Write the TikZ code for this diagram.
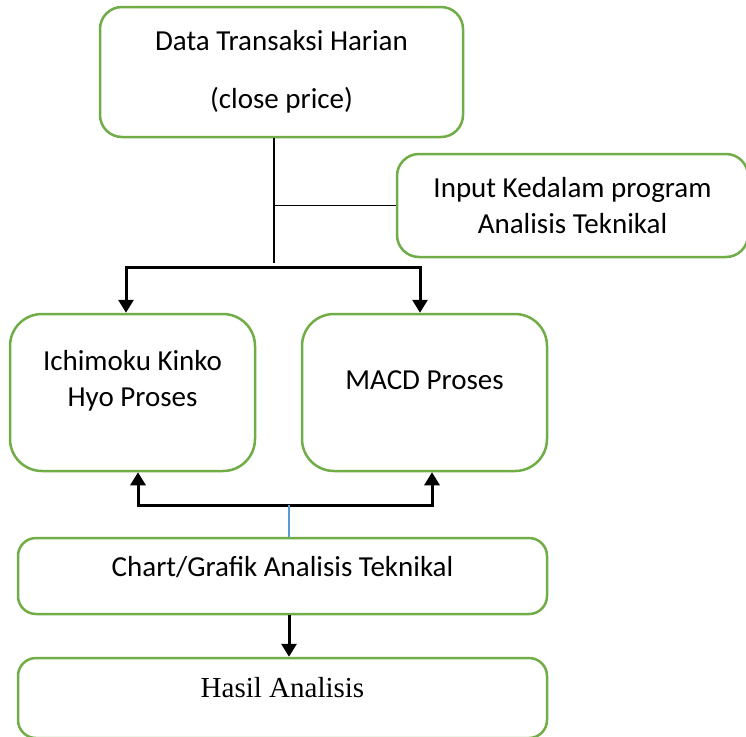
\documentclass[tikz,border=0pt]{standalone}
\usepackage{fontspec}
\setmainfont{Carlito}
\newfontfamily\timesfont{Liberation Serif}
\usetikzlibrary{arrows.meta}
\definecolor{boxgreen}{HTML}{70AD47}
\definecolor{tapblue}{HTML}{5B9BD5}
\tikzset{
  stage/.style={draw=boxgreen,line width=2.5pt,rectangle,rounded corners=#1,
    inner sep=0pt,align=center,font=\fontsize{29}{35.5}\selectfont},
  stage/.default=22pt,
  tip/.tip={Triangle[width=15pt,length=13pt]},
  flow/.style={line width=3pt,-tip},
  link/.style={line width=1.3pt}
}
\begin{document}
\begin{tikzpicture}[x=1pt,y=-1pt]
      \useasboundingbox (0,0) rectangle (746,736);
      \node[stage,minimum width=363pt,minimum height=130pt] (data) at (281.5,72) {Data Transaksi Harian\\[22pt](close price)};
      \node[stage,minimum width=351pt,minimum height=103pt] (input) at (572.5,205.5) {Input Kedalam program\\Analisis Teknikal};
      \node[stage=32pt,minimum width=245pt,minimum height=157pt,text depth=28pt] (ichi) at (132.5,392.5) {Ichimoku Kinko\\Hyo Proses};
      \node[stage=32pt,minimum width=245pt,minimum height=157pt,text depth=24pt] (macd) at (424.5,392.5) {MACD Proses};
      \node[stage=18pt,minimum width=529pt,minimum height=76pt,text depth=19pt] (chart) at (282.5,576) {Chart/Grafik Analisis Teknikal};
      \node[stage=18pt,minimum width=529pt,minimum height=80pt,text depth=22pt] (hasil) at (282.5,698) {\timesfont Hasil Analisis};
      \coordinate (split) at (274,263);
      \coordinate (fanL) at (126,267);
      \coordinate (fanR) at (420,267);
      \coordinate (joinL) at (138,505);
      \coordinate (joinR) at (432,505);
      \coordinate (tap) at (289,505);
      \draw[link] (split |- data.south) -- (split);
      \draw[link] (split |- input.west) -- (input.west);
      \draw[flow,tip-tip] (fanL |- ichi.north) -- (fanL) -- (fanR) -- (fanR |- macd.north);
      \draw[flow,tip-tip] (joinL |- ichi.south) -- (joinL) -- (joinR) -- (joinR |- macd.south);
      \draw[tapblue,line width=1.2pt] (tap) -- (tap |- chart.north);
      \draw[flow] (tap |- chart.south) -- (tap |- hasil.north);
    \end{tikzpicture}
\end{document}
